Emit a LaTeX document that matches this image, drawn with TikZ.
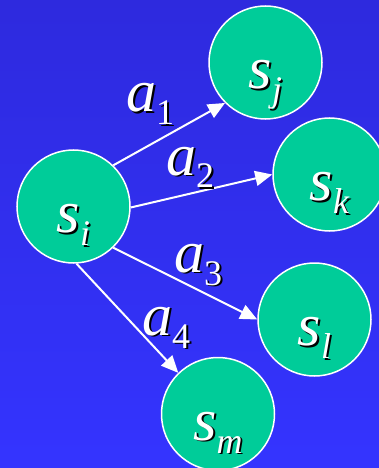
\documentclass[tikz,border=0pt]{standalone}
\usepackage{fontspec}
\setmainfont{Liberation Serif}
\usetikzlibrary{arrows.meta}
\definecolor{nodegreen}{RGB}{0,204,153}
\definecolor{bgtop}{RGB}{46,42,222}
\definecolor{bgbot}{RGB}{52,52,255}
\newcommand\mainsub[2]{{\fontsize{60}{60}\selectfont\itshape #1}\raisebox{-13pt}{\fontsize{36}{36}\selectfont #2}}
\begin{document}
\begin{tikzpicture}[x=1pt,y=-1pt,
  state/.style={circle,fill=nodegreen,draw=white,line width=1.5pt,minimum size=113pt,inner sep=0pt},
  lbl/.style={text=white,inner sep=0pt,anchor=base},
  lblsh/.style={text=black,inner sep=0pt,anchor=base},
  albl/.style={text=white,inner sep=0pt,anchor=base west},
  albsh/.style={text=black,inner sep=0pt,anchor=base west},
  arr/.style={draw=white,line width=2pt,-{Triangle[length=17pt,width=15pt]}}]
\useasboundingbox (0,0) rectangle (379,468);
\clip (0,0) rectangle (379,468);
\shade[top color=bgtop,bottom color=bgbot] (0,0) rectangle (379,468);
% states
\node[state] (si) at (73.5,206.5) {};
\node[state] (sj) at (265.5,62.5) {};
\node[state] (sk) at (329.5,174.5) {};
\node[state] (sl) at (314.5,319.5) {};
\node[state] (sm) at (218,414) {};
% state labels
\foreach \n/\s in {si/i,sj/j,sk/k,sl/l,sm/m}{
  \node[lblsh] at ([xshift=1.8pt,yshift=-27.8pt]\n.center) {\mainsub{s}{\itshape\s}};
  \node[lbl] (t\n) at ([yshift=-26pt]\n.center) {\mainsub{s}{\itshape\s}};
}
% arrows
\draw[arr] (si.46) -- (sj.225);
\draw[arr] (si.-1) -- (sk.180);
\draw[arr] (si.-46) -- (sl.180);
\draw[arr] (si.-87) -- (sm.134);
% action labels
\foreach \px/\py/\k in {126/112/1,166/175/2,174/272/3,142/335/4}{
  \node[albsh] (ash\k) at (\px+1.8,\py+1.8) {\mainsub{a}{\k}};
  \node[albl] (a\k) at (\px,\py) {\mainsub{a}{\k}};
}
\end{tikzpicture}
\end{document}
